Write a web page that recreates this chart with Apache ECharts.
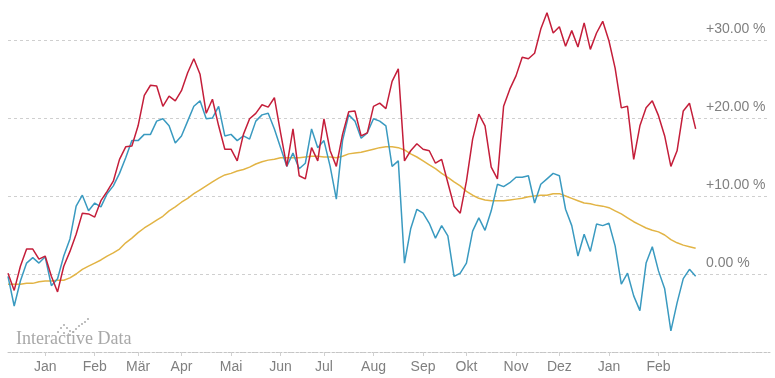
<!DOCTYPE html>
<html>
<head>
<meta charset="utf-8">
<script src="https://cdn.jsdelivr.net/npm/echarts@6/dist/echarts.min.js"></script>
<style>html,body{margin:0;padding:0;background:#fff}#c{width:775px;height:378px}</style>
</head>
<body>
<div id="c"></div>
<script>
// x categories: one sample every 4 days starting 2013-12-09
const startDate = '2013-12-09';
const stepDays = 4;
const categoryCount = 124;

// month tick labels and the dates they mark
const tickLabels = ['Jan','Feb','Mär','Apr','Mai','Jun','Jul','Aug','Sep','Okt','Nov','Dez','Jan','Feb'];
const tickDates = ['2014-01-01','2014-02-01','2014-03-01','2014-04-01','2014-05-01','2014-06-01','2014-07-01','2014-08-01','2014-09-01','2014-10-01','2014-11-01','2014-12-01','2015-01-01','2015-02-01'];

// y axis ticks (percent)
const yTicks = [0, 10, 20, 30];

// series values (% change)
const redSeries = [0.1,-2.1,1.0,3.2,3.2,1.9,2.3,-0.3,-2.3,1.0,
 2.9,5.1,7.8,7.7,7.3,9.4,10.6,11.9,14.7,16.3,
 16.4,19.0,22.9,24.2,24.1,21.5,22.8,22.2,23.5,25.8,
 27.6,25.6,20.6,22.4,19.0,16.0,16.0,14.5,17.9,19.9,
 20.6,21.7,21.4,22.6,18.1,13.8,18.6,12.6,12.2,16.2,
 14.5,19.9,15.8,13.8,17.9,20.8,20.9,17.7,18.1,21.5,
 21.9,21.2,24.7,26.3,14.5,15.8,16.7,16.0,15.8,14.2,
 14.7,11.7,8.7,7.8,11.9,17.3,20.5,19.0,13.7,12.2,
 21.5,23.7,25.4,27.8,27.6,28.3,31.4,33.5,30.9,31.7,
 29.2,31.2,29.1,32.2,28.8,30.9,32.4,29.9,26.4,21.3,
 21.5,14.7,19.0,21.3,22.2,20.3,17.7,13.8,15.8,20.9,
 21.9,18.6];

const blueSeries = [-0.3,-4.1,-0.9,1.4,2.1,1.4,2.2,-1.5,-0.6,2.3,
 4.5,8.7,10.1,8.1,9.1,8.6,10.3,11.3,12.9,14.9,
 17.1,17.1,17.9,17.9,19.6,19.9,19.0,16.8,17.7,19.6,
 21.5,22.2,19.9,20.0,21.5,17.7,17.9,17.1,17.7,17.3,
 19.6,20.4,20.6,18.6,16.2,13.8,15.5,13.5,14.2,18.6,
 16.2,17.1,13.8,9.6,17.1,20.4,19.6,17.4,18.1,19.9,
 19.6,19.0,13.8,14.5,1.4,5.8,8.3,7.8,6.5,4.6,
 6.2,4.9,-0.3,0.1,1.4,5.5,7.2,5.6,8.1,11.5,
 11.2,11.7,12.4,12.4,12.6,9.1,11.5,12.2,12.9,12.6,
 8.3,6.2,2.3,5.1,2.9,6.4,6.2,6.5,3.6,-1.3,
 0.1,-2.8,-4.7,1.4,3.5,0.4,-1.9,-7.3,-3.7,-0.6,
 0.6,-0.3];

const avgSeries = [-1.3,-1.3,-1.3,-1.2,-1.2,-1.0,-0.9,-0.9,-0.8,-0.8,
 -0.5,0.0,0.6,1.0,1.4,1.8,2.3,2.7,3.2,4.0,
 4.6,5.3,5.9,6.4,6.9,7.4,8.1,8.6,9.2,9.7,
 10.3,10.8,11.3,11.8,12.3,12.7,12.9,13.2,13.4,13.7,
 14.1,14.4,14.6,14.7,14.9,14.9,14.9,14.9,15.0,15.1,
 15.1,15.0,15.0,14.9,15.1,15.4,15.5,15.6,15.8,16.0,
 16.2,16.3,16.3,16.2,15.9,15.4,15.0,14.5,14.0,13.5,
 12.9,12.4,11.8,11.3,10.6,10.1,9.7,9.5,9.4,9.4,
 9.4,9.5,9.6,9.7,9.9,10.0,10.1,10.1,10.3,10.3,
 10.0,9.7,9.4,9.1,9.0,8.8,8.7,8.5,8.1,7.7,
 7.2,6.7,6.3,5.9,5.6,5.4,5.0,4.4,4.0,3.7,
 3.5,3.3];

// ---- build categories & tick positions ----
const DAY = 86400000;
const t0 = Date.parse(startDate + 'T00:00:00Z');
const categories = [];
for (let i = 0; i < categoryCount; i++) {
  categories.push(new Date(t0 + i * stepDays * DAY).toISOString().slice(0, 10));
}
const tickIndex = {};
tickDates.forEach((d, k) => {
  const idx = Math.round((Date.parse(d + 'T00:00:00Z') - t0) / DAY / stepDays);
  tickIndex[idx] = tickLabels[k];
});
const isTick = (index) => Object.prototype.hasOwnProperty.call(tickIndex, index);

const chart = echarts.init(document.getElementById('c'), null, {renderer: 'canvas'});
const gridLine = {color: '#cfcfcf', width: 1, type: [3, 3]};

const dots = [[58,332],[61,328],[64,325],[67,328],[70,331],[73,332],[76,329],[79,326],[82,324],[85,322],[88,319],[64,333],[70,335]];

chart.setOption({
  animation: false,
  backgroundColor: '#fff',
  grid: {left: 8, right: 5, top: 1, bottom: 26, containLabel: false},
  xAxis: {
    type: 'category',
    data: categories,
    boundaryGap: false,
    axisLine: {show: true, onZero: false, lineStyle: {color: '#c4c4c4', width: 1, type: [2, 2]}},
    axisTick: {show: true, interval: (i) => isTick(i), length: 4, lineStyle: {color: '#d0d0d0'}},
    axisLabel: {
      interval: (i) => isTick(i),
      formatter: (v, i) => tickIndex[i] || '',
      color: '#808080', fontSize: 14, fontFamily: 'Arial, "Liberation Sans", sans-serif', margin: 8
    },
    splitLine: {show: false}
  },
  yAxis: {
    type: 'value',
    position: 'right',
    min: -10, max: 35, interval: 10,
    axisLine: {show: false},
    axisTick: {show: false},
    splitLine: {show: true, lineStyle: gridLine, showMaxLine: false},
    axisLabel: {
      inside: true,
      align: 'left',
      verticalAlign: 'bottom',
      lineHeight: 22,
      margin: 64,
      showMaxLabel: false,
      color: '#808080', fontSize: 14, fontFamily: 'Arial, "Liberation Sans", sans-serif',
      formatter: (v) => yTicks.indexOf(v) < 0 ? '' : (v > 0 ? '+' : '') + v.toFixed(2) + ' %'
    }
  },
  graphic: [
    {type: 'text', left: 16, top: 330, silent: true,
     style: {text: 'Interactive Data', font: '18px "Liberation Serif", "Times New Roman", serif', fill: '#a8a8a8'}}
  ].concat(dots.map(p => ({type: 'circle', silent: true, shape: {cx: p[0], cy: p[1], r: 1.1}, style: {fill: '#b0b0b0'}}))),
  series: [
    {name: 'avg', type: 'line', data: avgSeries, showSymbol: false, symbol: 'none', smooth: false,
     lineStyle: {color: '#e2b445', width: 1.5}, z: 2},
    {name: 'blue', type: 'line', data: blueSeries, showSymbol: false, symbol: 'none',
     lineStyle: {color: '#3a9ac0', width: 1.5}, z: 3},
    {name: 'red', type: 'line', data: redSeries, showSymbol: false, symbol: 'none',
     lineStyle: {color: '#c41e3a', width: 1.5}, z: 4}
  ]
});
</script>
</body>
</html>
